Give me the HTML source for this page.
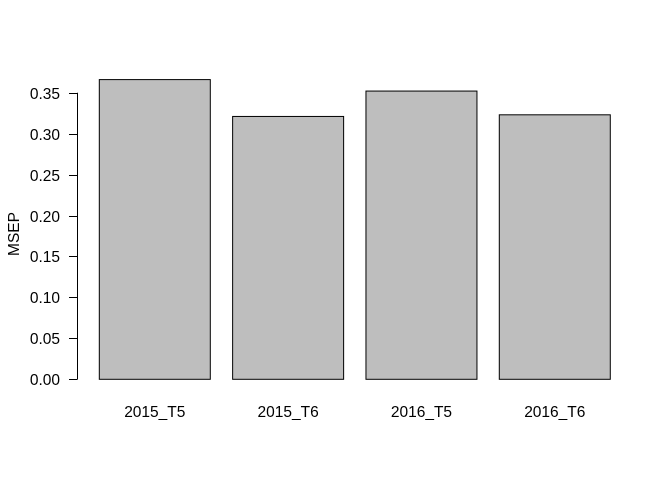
<!DOCTYPE html>
<html><head><meta charset="utf-8"><style>
body{margin:0;background:#fff}
svg text{font-family:"Liberation Sans",Arial,sans-serif;font-size:15.5px;fill:#000}
</style></head><body>
<svg id="chart" width="672" height="480" xmlns="http://www.w3.org/2000/svg">
<g id="bars"></g>
<g id="yaxis"></g>
<g id="xlabels"></g>
<text transform="translate(19,234) rotate(-90)" text-anchor="middle">MSEP</text>
</svg>
<script>
const categories = ["2015_T5","2015_T6","2016_T5","2016_T6"];
const values = [0.366, 0.321, 0.352, 0.323];
const yTicks = [0,0.05,0.10,0.15,0.20,0.25,0.30,0.35];
const yTickLabels = ["0.00","0.05","0.10","0.15","0.20","0.25","0.30","0.35"];
const NS="http://www.w3.org/2000/svg";
const y0=379.3, pxPer=(379.3-92.7)/0.35;
function yScale(v){return y0-v*pxPer;}
function xLeft(i){return 99.3+133.33*i;}
const bw=111;
const bars=document.getElementById('bars'), xl=document.getElementById('xlabels'), ya=document.getElementById('yaxis');
values.forEach((v,i)=>{
  const r=document.createElementNS(NS,'rect');
  
  
  r.setAttribute('x',xLeft(i));r.setAttribute('y',yScale(v));
  r.setAttribute('width',bw);r.setAttribute('height',y0-yScale(v));
  r.setAttribute('fill','#bebebe');r.setAttribute('stroke','#000');r.setAttribute('stroke-width','1');
  bars.appendChild(r);
  const t=document.createElementNS(NS,'text');
  
  
  t.setAttribute('x',xLeft(i)+bw/2);t.setAttribute('y',417);t.setAttribute('text-anchor','middle');
  t.textContent=categories[i];xl.appendChild(t);
});
const ax=document.createElementNS(NS,'line');


ax.setAttribute('x1',77.5);ax.setAttribute('x2',77.5);
ax.setAttribute('y1',yScale(yTicks[yTicks.length-1]));ax.setAttribute('y2',yScale(yTicks[0]));
ax.setAttribute('stroke','#000');ya.appendChild(ax);
yTicks.forEach((v,i)=>{
  const l=document.createElementNS(NS,'line');
  
  
  const y=Math.round(yScale(v))+0.5;
  l.setAttribute('x1',69);l.setAttribute('x2',77.5);l.setAttribute('y1',y);l.setAttribute('y2',y);
  l.setAttribute('stroke','#000');ya.appendChild(l);
  const t=document.createElementNS(NS,'text');
  
  
  t.setAttribute('x',60);t.setAttribute('y',y+5.5);t.setAttribute('text-anchor','end');
  t.textContent=yTickLabels[i];ya.appendChild(t);
});
</script>
</body></html>
